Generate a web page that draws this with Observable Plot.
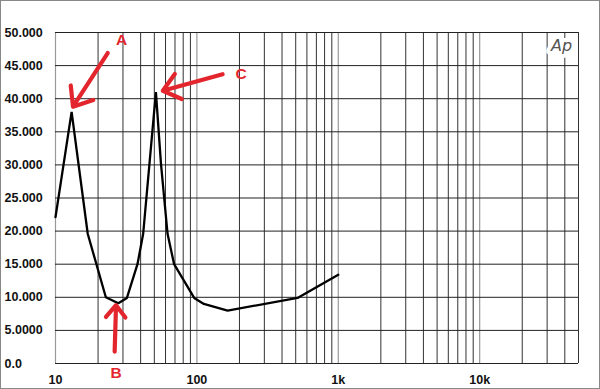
<!DOCTYPE html>
<html><head><meta charset="utf-8">
<script src="https://cdn.jsdelivr.net/npm/d3@7"></script>
<script src="https://cdn.jsdelivr.net/npm/@observablehq/plot@0.6"></script>
<style>
html,body{margin:0;padding:0;background:#fff;}
#chart svg{display:block; outline:1px solid #888; outline-offset:-1px;}
</style></head><body><div id="chart"></div>
<script>
// Curve (frequency in Hz, level)
const freqHz = [10, 13, 16.9, 22.7, 27.8, 32, 38, 41.7, 51.3, 55.7, 62, 69, 95.7, 112, 165, 515, 1000];
const level  = [22.1, 38, 19.6, 10.0, 9.1, 9.9, 15.0, 19.6, 41, 30.2, 19.6, 15.0, 9.9, 9.0, 8.0, 9.9, 13.4];

// Axes
const yTicks = [0, 5, 10, 15, 20, 25, 30, 35, 40, 45, 50];
const yTickLabels = ["0.0", "5.0000", "10.000", "15.000", "20.000", "25.000", "30.000", "35.000", "40.000", "45.000", "50.000"];
const xTicks = [10, 100, 1000, 10000, 50000];
const xTickLabels = ["10", "100", "1k", "10k", "50k"];
const decadeLines = [10, 100, 1000, 10000];
const minorLines = [20, 30, 40, 50, 60, 70, 80, 90,
  200, 300, 400, 500, 600, 700, 800, 900,
  2000, 3000, 4000, 5000, 6000, 7000, 8000, 9000,
  20000, 30000, 40000, 50000];

// Annotations
const arrowLabels = ["A", "B", "C"];
const arrowTipHz = [13.3, 26.8, 57.4];
const arrowTipLevel = [38.8, 8.8, 41.2];
const arrowTailHz = [23.4, 26.2, 152];
const arrowTailLevel = [46.9, 1.8, 43.7];
const letterHz = [29.3, 26.8, 205];
const letterLevel = [48.9, -1.4, 43.8];
const logoText = ["Ap"];
const logoHz = [38000];
const logoLevel = [48.0];

const curve = freqHz.map((f, i) => ({f, v: level[i]}));
const arrows = arrowLabels.map((l, i) => ({l, x1: arrowTailHz[i], y1: arrowTailLevel[i], x2: arrowTipHz[i], y2: arrowTipLevel[i], lx: letterHz[i], ly: letterLevel[i]}));
const logo = logoText.map((t, i) => ({t, x: logoHz[i], y: logoLevel[i]}));
const red = "#e3262d";

const chart = Plot.plot({
  width: 600, height: 389,
  marginLeft: 55, marginRight: 22, marginTop: 32, marginBottom: 26,
  x: {type: "log", domain: [10, 50000]},
  y: {domain: [0, 50]},
  style: {fontFamily: "'Liberation Sans', Arial, sans-serif", background: "#fff", overflow: "visible"},
  marks: [
    Plot.ruleX(minorLines, {stroke: "#333", strokeWidth: 1}),
    Plot.ruleX(decadeLines, {stroke: "#999", strokeWidth: 1.2}),
    Plot.ruleY(yTicks, {stroke: "#222", strokeWidth: 1}),
    Plot.axisY(yTicks, {tickSize: 0, tickPadding: 0, textAnchor: "start", dx: -51,
      tickFormat: d => yTickLabels[yTicks.indexOf(d)], fontSize: 12.5, fontWeight: "bold", fill: "#111", label: null}),
    Plot.axisX(xTicks, {tickSize: 0, tickPadding: 12,
      tickFormat: d => xTickLabels[xTicks.indexOf(d)], fontSize: 12.5, fontWeight: "bold", fill: "#111", label: null}),
    Plot.line(curve, {x: "f", y: "v", stroke: "#000", strokeWidth: 2.3, strokeLinejoin: "miter"}),
    Plot.arrow(arrows, {x1: "x1", y1: "y1", x2: "x2", y2: "y2", stroke: red, strokeWidth: 4.2, headLength: 8, headAngle: 78}),
    Plot.text(arrows, {x: "lx", y: "ly", text: "l", fill: red, fontSize: 15.5, fontWeight: "bold"}),
    Plot.text(logo, {x: "x", y: "y", text: "t", fill: "#555", fontSize: 16, fontStyle: "italic", fontFamily: "'DejaVu Sans', sans-serif", fontWeight: 200, stroke: "#fff", strokeWidth: 8})
  ]
});
document.getElementById("chart").appendChild(chart);
</script></body></html>
